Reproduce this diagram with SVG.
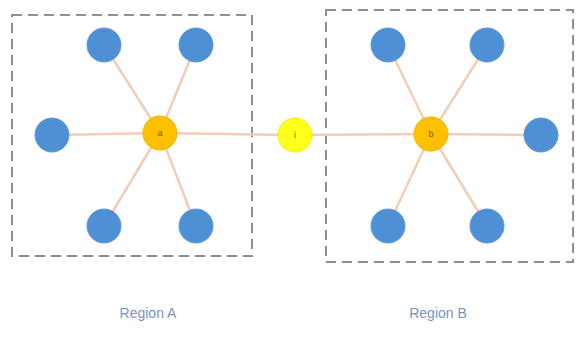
<svg xmlns="http://www.w3.org/2000/svg" width="578" height="337" viewBox="0 0 578 337">
<style>
.region{fill:none;stroke:#8c8f9c;stroke-width:2;stroke-dasharray:10 6}
.edge{stroke:#f2cdb8;stroke-width:2.5}
.leaf{fill:#4f8fd4;stroke:#5b9bd5;stroke-width:1}
.hub{fill:#ffc000;stroke:#f5b000;stroke-width:1}
.mid{fill:#ffff1a;stroke:#f0f000;stroke-width:1}
.nl{font-family:"Liberation Sans",Arial,sans-serif;font-size:9px;fill:#7a5a00;text-anchor:middle}
.lbl{font-family:"Liberation Sans",Arial,sans-serif;font-size:14px;fill:#7b93b8;text-anchor:middle}
</style>
<rect fill="#ffffff" width="578" height="337"/>
<rect class="region" x="12" y="15" width="240" height="241"/>
<rect class="region" x="326" y="10" width="247" height="252"/>
<g id="connectors">
<line class="edge" x1="160" y1="133" x2="104" y2="45"/>
<line class="edge" x1="160" y1="133" x2="196" y2="45"/>
<line class="edge" x1="160" y1="133" x2="52" y2="135"/>
<line class="edge" x1="160" y1="133" x2="104" y2="226"/>
<line class="edge" x1="160" y1="133" x2="196" y2="226"/>
<line class="edge" x1="160" y1="133" x2="295" y2="135"/>
<line class="edge" x1="295" y1="135" x2="431" y2="134"/>
<line class="edge" x1="431" y1="134" x2="388" y2="45"/>
<line class="edge" x1="431" y1="134" x2="487" y2="45"/>
<line class="edge" x1="431" y1="134" x2="541" y2="135"/>
<line class="edge" x1="431" y1="134" x2="388" y2="226"/>
<line class="edge" x1="431" y1="134" x2="487" y2="226"/>
</g>
<g id="a1"><circle class="leaf" cx="104" cy="45" r="17"/></g>
<g id="a2"><circle class="leaf" cx="196" cy="45" r="17"/></g>
<g id="a3"><circle class="leaf" cx="52" cy="135" r="17"/></g>
<g id="a4"><circle class="leaf" cx="104" cy="226" r="17"/></g>
<g id="a5"><circle class="leaf" cx="196" cy="226" r="17"/></g>
<g id="a"><circle class="hub" cx="160" cy="133" r="17"/><text class="nl" x="160" y="136">a</text></g>
<g id="i"><circle class="mid" cx="295" cy="135" r="17"/><text class="nl" x="295" y="138">i</text></g>
<g id="b"><circle class="hub" cx="431" cy="134" r="17"/><text class="nl" x="431" y="137">b</text></g>
<g id="b1"><circle class="leaf" cx="388" cy="45" r="17"/></g>
<g id="b2"><circle class="leaf" cx="487" cy="45" r="17"/></g>
<g id="b3"><circle class="leaf" cx="541" cy="135" r="17"/></g>
<g id="b4"><circle class="leaf" cx="388" cy="226" r="17"/></g>
<g id="b5"><circle class="leaf" cx="487" cy="226" r="17"/></g>
<text class="lbl" x="148" y="318">Region A</text>
<text class="lbl" x="438" y="318">Region B</text>
</svg>
